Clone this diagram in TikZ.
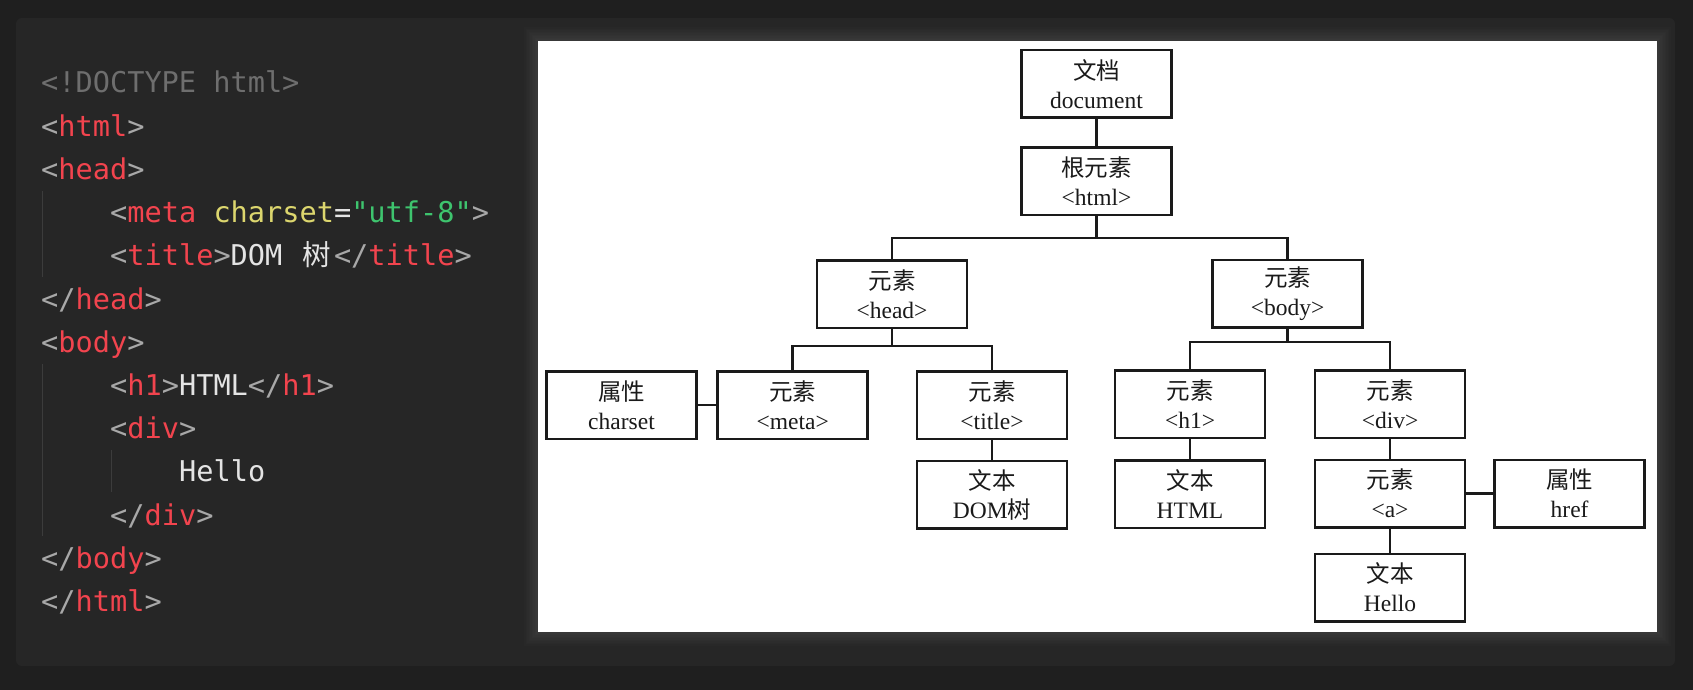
\documentclass[tikz,border=0pt]{standalone}
\usepackage{fontspec}
\setmainfont{Liberation Serif}
\setmonofont{DejaVu Sans Mono}
\newfontfamily\cjk{Noto Sans CJK SC}
\usetikzlibrary{calc}

\definecolor{outerbg}{HTML}{1F1F1F}
\definecolor{panelbg}{HTML}{262626}
\definecolor{punct}{HTML}{A8A8A8}
\definecolor{tagred}{HTML}{F2444E}
\definecolor{attryel}{HTML}{DCD66E}
\definecolor{strgreen}{HTML}{3EC46E}
\definecolor{plaintxt}{HTML}{E4E4E4}
\definecolor{doctype}{HTML}{6E6E6E}
\definecolor{guide}{HTML}{3C3C3C}
\definecolor{ink}{HTML}{1A1A1A}

\newcommand{\tg}[1]{\textcolor{tagred}{#1}}
\newcommand{\attr}[1]{\textcolor{attryel}{#1}}
\newcommand{\str}[1]{\textcolor{strgreen}{#1}}
\newcommand{\pl}[1]{\textcolor{plaintxt}{#1}}

\tikzset{
  codeline/.style={anchor=base west, inner sep=0pt, text=punct,
    font=\ttfamily\fontsize{28.6}{34}\selectfont},
  treebox/.style={draw=ink, line width=2.5pt, fill=white, text=ink,
    minimum width=150pt, minimum height=67.5pt, inner sep=0pt, align=center,
    font=\fontsize{23.5}{29}\selectfont},
  link/.style={draw=ink, line width=2.5pt}
}

\begin{document}
\begin{tikzpicture}[x=1pt,y=-1pt]
      % background and panels
      \fill[outerbg] (0,0) rectangle (1693,690);
      \useasboundingbox (0,0) rectangle (1693,690);
      \fill[panelbg, rounded corners=6pt] (16,18) rectangle (1675,666);
      \foreach \i in {1,...,9}
        \fill[white, opacity=0.012] ($(537.7,41)+(-1.5*\i,-1.5*\i)$) rectangle ($(1657,632)+(1.5*\i,1.5*\i)$);
      \fill[white] (537.7,41) rectangle (1657,632);

      % indent guides
      \draw[guide, line width=1pt] (42,191) -- (42,277);
      \draw[guide, line width=1pt] (42,364) -- (42,536);
      \draw[guide, line width=1pt] (111,450) -- (111,492);

      % source code
      \node[codeline] (l1) at (41,93) {\textcolor{doctype}{<!DOCTYPE html>}};
      \node[codeline] (l2) at (41,136.2) {<\tg{html}>};
      \node[codeline] (l3) at (41,179.4) {<\tg{head}>};
      \node[codeline] (l4) at (110,222.6) {<\tg{meta} \attr{charset}\pl{=}\str{"utf-8"}>};
      \node[codeline] (l5) at (110,265.8) {<\tg{title}>\pl{DOM }\makebox[34.4pt][c]{\pl{\cjk 树}}</\tg{title}>};
      \node[codeline] (l6) at (41,309) {</\tg{head}>};
      \node[codeline] (l7) at (41,352.2) {<\tg{body}>};
      \node[codeline] (l8) at (110,395.4) {<\tg{h1}>\pl{HTML}</\tg{h1}>};
      \node[codeline] (l9) at (110,438.6) {<\tg{div}>};
      \node[codeline] (l10) at (179,481.8) {\pl{Hello}};
      \node[codeline] (l11) at (110,525) {</\tg{div}>};
      \node[codeline] (l12) at (41,568.2) {</\tg{body}>};
      \node[codeline] (l13) at (41,611.4) {</\tg{html}>};

      % DOM tree
      \node[treebox] (docnode) at (1096.5,84) {{\cjk 文档}\\document};
      \node[treebox] (rootnode) at (1096.5,181) {{\cjk 根元素}\\<html>};
      \node[treebox] (headnode) at (892,294) {{\cjk 元素}\\<head>};
      \node[treebox] (bodynode) at (1287.6,293.5) {{\cjk 元素}\\<body>};
      \node[treebox] (charsetnode) at (621.5,405) {{\cjk 属性}\\charset};
      \node[treebox] (metanode) at (792.7,405) {{\cjk 元素}\\<meta>};
      \node[treebox] (titlenode) at (992,405) {{\cjk 元素}\\<title>};
      \node[treebox] (domtext) at (992,494.5) {{\cjk 文本}\\DOM{\cjk 树}};
      \node[treebox] (h1node) at (1190,404) {{\cjk 元素}\\<h1>};
      \node[treebox] (divnode) at (1390,404) {{\cjk 元素}\\<div>};
      \node[treebox] (htmltext) at (1190,494) {{\cjk 文本}\\HTML};
      \node[treebox] (anode) at (1390,493.5) {{\cjk 元素}\\<a>};
      \node[treebox] (hrefnode) at (1569.6,493.5) {{\cjk 属性}\\href};
      \node[treebox] (hellotext) at (1390,587.5) {{\cjk 文本}\\Hello};

      % bus points
      \coordinate (rootbus) at (1096.5,238);
      \coordinate (headbus) at (892,346);
      \coordinate (bodybus) at (1287.6,342);

      % connectors
      \draw[link] (docnode) -- (rootnode);
      \draw[link] (rootnode) -- (rootbus);
      \draw[link] (headnode.north) |- (rootbus) -| (bodynode.north);
      \draw[link] (headnode) -- (headbus);
      \draw[link] (metanode.north) |- (headbus) -| (titlenode.north);
      \draw[link] (charsetnode) -- (metanode);
      \draw[link] (titlenode) -- (domtext);
      \draw[link] (bodynode) -- (bodybus);
      \draw[link] (h1node.north) |- (bodybus) -| (divnode.north);
      \draw[link] (h1node) -- (htmltext);
      \draw[link] (divnode) -- (anode);
      \draw[link] (anode) -- (hrefnode);
      \draw[link] (anode) -- (hellotext);
\end{tikzpicture}
\end{document}
